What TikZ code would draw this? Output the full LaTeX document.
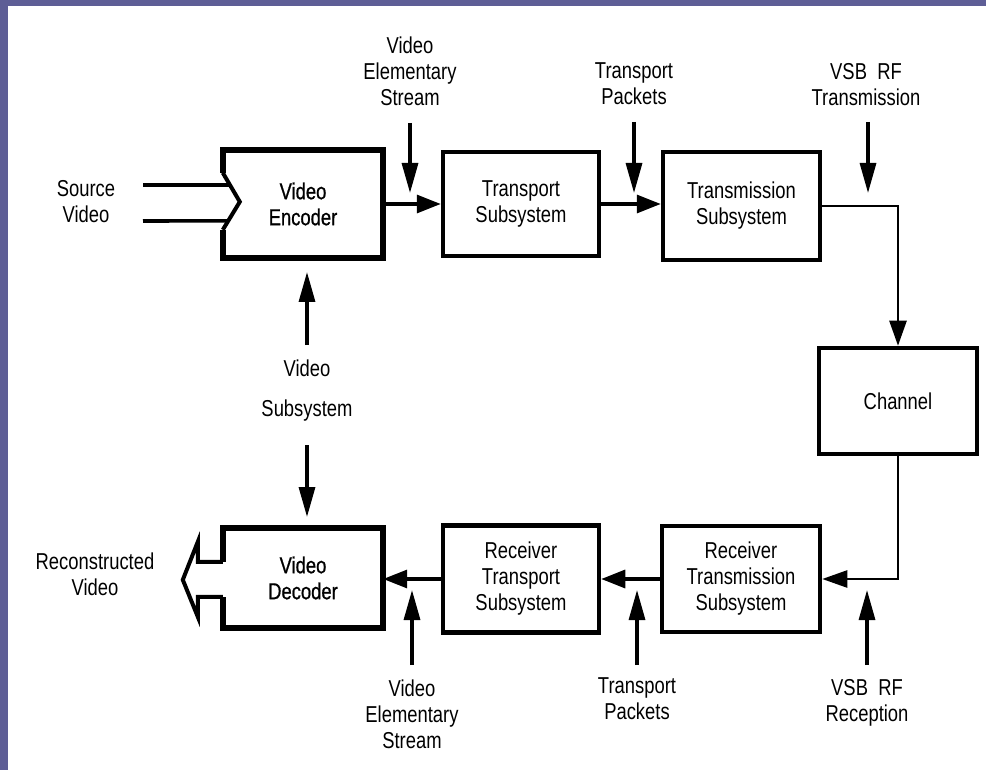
\documentclass[tikz,border=0pt]{standalone}
\usepackage{fontspec}
\setmainfont{Liberation Sans}[FakeStretch=0.8]
\newfontfamily\blockfont{Liberation Sans}[FakeStretch=0.8,FakeBold=0.8]
\usetikzlibrary{arrows.meta,calc}
\definecolor{slide}{HTML}{5E5E96}
\begin{document}
\begin{tikzpicture}[x=1pt,y=-1pt,
  txt/.style={font=\fontsize{23}{26}\selectfont, align=center, inner sep=0pt, text=black},
  box/.style={txt, draw, line width=4.5pt},
  heavybox/.style={txt, font=\blockfont\fontsize{23}{26}\selectfont, draw=none},
  heavyline/.style={line width=6pt, line join=miter},
  notchline/.style={line width=4pt, line join=miter},
  harr/.style={line width=3.2pt, -{Triangle[length=24pt,width=18pt]}},
  varr/.style={line width=3.2pt, -{Triangle[length=30pt,width=16pt]}},
  link/.style={line width=2.5pt, -{Triangle[length=25pt,width=17pt]}}
]
% slide background and white panel
\fill[slide] (0,0) rectangle (986,770);
\fill[white] (8,6) rectangle (986,770);
\useasboundingbox (0,0) rectangle (986,770);

% ---------- blocks ----------
\node[heavybox, minimum width=160pt, minimum height=108pt] (enc) at (303,204) {Video\\Encoder};
\node[box, minimum width=156pt, minimum height=104pt] (tsub) at (521,204) {Transport\\Subsystem};
\node[box, minimum width=157pt, minimum height=108pt] (txsub) at (741.5,206) {Transmission\\Subsystem};
\node[box, minimum width=158pt, minimum height=106pt] (chan) at (898,401) {Channel};
\node[box, minimum width=158pt, minimum height=106pt] (rtx) at (741,579) {Receiver\\Transmission\\Subsystem};
\node[box, minimum width=156pt, minimum height=107pt] (rtp) at (521,579) {Receiver\\Transport\\Subsystem};
\node[heavybox, minimum width=160pt, minimum height=100pt] (dec) at (303,578) {Video\\Decoder};

% encoder outline with the input notch on its left side
\coordinate (ncA) at ($(enc.north west)+(0,23)$);
\coordinate (ncB) at ($(enc.north west)+(17,52)$);
\coordinate (ncC) at ($(enc.north west)+(0,80)$);
\draw[heavyline] (ncA) -- (enc.north west) -- (enc.north east) -- (enc.south east) -- (enc.south west) -- (ncC);
\draw[notchline] (ncA) -- (ncB) -- (ncC);

% decoder outline with the hollow output arrow on its left side
\coordinate (dcA) at ($(dec.north west)+(0,34)$);
\coordinate (dcB) at ($(dec.north west)+(0,69)$);
\draw[heavyline] (dcA) -- (dec.north west) -- (dec.north east) -- (dec.south east) -- (dec.south west) -- (dcB);
\draw[notchline] (dcB) -- ++(-25,0) -- ++(0,20) -- ($(dec.north west)+(-40,52)$) -- ($(dec.north west)+(-25,14)$) -- ++(0,20) -- (dcA);

% ---------- labels ----------
\node[txt] (src) at (86,202) {Source\\Video};
\node[txt] (ves1) at (410,71) {Video\\Elementary\\Stream};
\node[txt] (tp1) at (634,84) {Transport\\Packets};
\node[txt] (vsb1) at (866,85) {VSB~~RF\\Transmission};
\node[txt] (vsub) at (307,391) {Video\\[14pt]Subsystem};
\node[txt] (recon) at (95,574) {Reconstructed\\Video};
\node[txt] (ves2) at (412,714) {Video\\Elementary\\Stream};
\node[txt] (tp2) at (637,699) {Transport\\Packets};
\node[txt] (vsb2) at (867,703) {VSB~~RF\\Reception};

% ---------- source video input lines, ending on the notch ----------
\coordinate (s1) at (143,185);
\coordinate (s2) at (143,221);
\draw[line width=3.6pt] (s1) -- ($(ncA)!0.42!(ncB)$);
\draw[line width=3.6pt] (s2) -- ($(ncC)!0.32!(ncB)$);

% ---------- forward chain ----------
\draw[harr] (enc.east) -- (enc.east -| tsub.west);
\draw[harr] (tsub.east) -- (tsub.east -| txsub.west);
\draw[link] (txsub.east) -| (chan.north);
\draw[link] (chan.south) |- (rtx.east);
\draw[harr] (rtx.west) -- (rtx.west -| rtp.east);
\draw[harr] (rtp.west) -- (rtp.west -| dec.east);

% ---------- side inputs ----------
\coordinate (a1) at (410,123);  \coordinate (b1) at (410,193);
\coordinate (a2) at (634,122);  \coordinate (b2) at (634,193);
\coordinate (a3) at (868,122);  \coordinate (b3) at (868,193);
\coordinate (a4) at (307,345);  \coordinate (b4) at (307,272);
\coordinate (a5) at (307,445);  \coordinate (b5) at (307,517);
\coordinate (a6) at (412,665);  \coordinate (b6) at (412,590);
\coordinate (a7) at (637,665);  \coordinate (b7) at (637,590);
\coordinate (a8) at (867,665);  \coordinate (b8) at (867,590);
\foreach \i in {1,...,8} \draw[varr] (a\i) -- (b\i);
\end{tikzpicture}
\end{document}
